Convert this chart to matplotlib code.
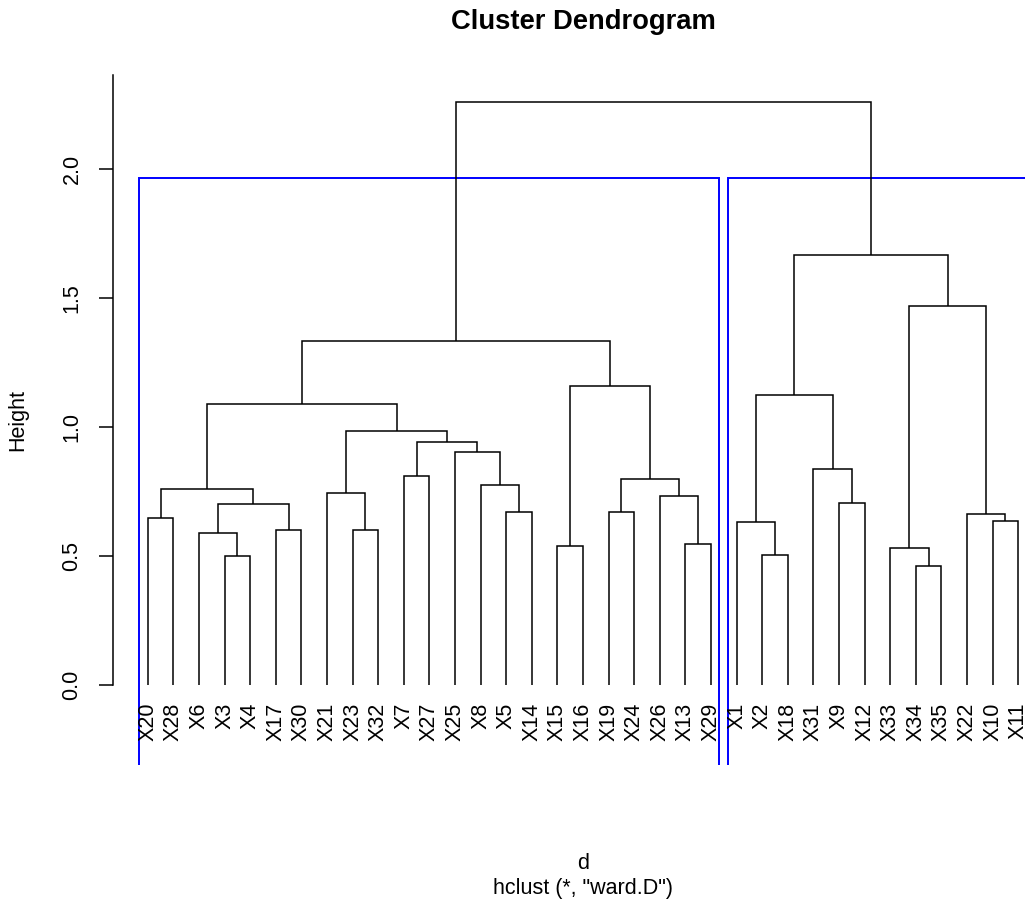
import matplotlib
matplotlib.use("Agg")
import matplotlib.pyplot as plt
from matplotlib.patches import Rectangle

plt.rcParams['font.family'] = ['Liberation Sans', 'DejaVu Sans']

# Leaf order (left to right)
leaf_labels = ["X20", "X28", "X6", "X3", "X4", "X17", "X30", "X21", "X23", "X32",
               "X7", "X27", "X25", "X8", "X5", "X14", "X15", "X16", "X19", "X24",
               "X26", "X13", "X29", "X1", "X2", "X18", "X31", "X9", "X12", "X33",
               "X34", "X35", "X22", "X10", "X11"]

# Merges: (left child, right child); strings = leaves, ints = earlier merge (1-based)
merge_left = ["X34", "X3", "X2", "X33", "X15", "X13", "X6", "X17", "X23", "X10",
              "X1", "X20", "X22", "X5", "X19", 7, "X9", "X26", "X21", 12,
              "X8", 15, "X7", "X31", "X25", 23, 19, 20, 11, 5,
              28, 4, 29, 31]
merge_right = ["X35", "X4", "X18", 1, "X16", "X29", 2, "X30", "X32", "X11",
               3, "X28", 10, "X14", "X24", 8, "X12", 6, 9, 16,
               14, 18, "X27", 17, 21, 25, 26, 27, 24, 22,
               30, 13, 32, 33]
merge_height = [0.462, 0.501, 0.503, 0.530, 0.540, 0.547, 0.590, 0.601, 0.601, 0.634,
                0.633, 0.648, 0.661, 0.672, 0.672, 0.701, 0.704, 0.733, 0.744, 0.760,
                0.777, 0.800, 0.810, 0.837, 0.902, 0.941, 0.985, 1.089, 1.123, 1.157,
                1.333, 1.470, 1.667, 2.260]

n_clusters = 2

W, H = 1025, 907
fig = plt.figure(figsize=(W / 100, H / 100), dpi=100)
ax = fig.add_axes([113 / W, 1 - 765 / H, 940 / W, 690 / H])

leaf_x = {lab: i + 1 for i, lab in enumerate(leaf_labels)}
node_x = {}
node_h = {}

def child_pos(c):
    if isinstance(c, str):
        return leaf_x[c], 0.0
    return node_x[c], node_h[c]

lc = 'black'
for k, (a, b, h) in enumerate(zip(merge_left, merge_right, merge_height), start=1):
    xa, ha = child_pos(a)
    xb, hb = child_pos(b)
    ax.plot([xa, xa, xb, xb], [ha, h, h, hb], color=lc, lw=1.1,
            solid_joinstyle='miter', solid_capstyle='butt')
    node_x[k] = (xa + xb) / 2
    node_h[k] = h

# leaf labels
for lab, x in leaf_x.items():
    ax.text(x, -0.068, lab, rotation=90, ha='center', va='top', fontsize=15.5)

ax.set_xlim(-0.36, 36.36)
ax.set_ylim(-0.310, 2.364)

# rect.hclust(k=2)
def leaves_under(c):
    if isinstance(c, str):
        return [c]
    return leaves_under(merge_left[c - 1]) + leaves_under(merge_right[c - 1])

top = len(merge_height)
cut = (merge_height[-1] + merge_height[-2]) / 2
for child in (merge_left[top - 1], merge_right[top - 1]):
    xs = [leaf_x[l] for l in leaves_under(child)]
    x0, x1 = min(xs) - 0.34, max(xs) + 0.33
    ax.add_patch(Rectangle((x0, -1.0), x1 - x0, cut + 1.0, fill=False,
                           edgecolor='#0000ff', lw=1.4, clip_on=True))

for s in ['top', 'right', 'bottom']:
    ax.spines[s].set_visible(False)
ax.spines['left'].set_bounds(0, 2.364)
ax.spines['left'].set_linewidth(1.1)
ax.set_xticks([])
ax.set_yticks([0.0, 0.5, 1.0, 1.5, 2.0])
ax.set_yticklabels(["0.0", "0.5", "1.0", "1.5", "2.0"], rotation=90, va='center')
ax.tick_params(axis='y', direction='out', length=10, width=1.1, pad=12, labelsize=15.5)

fig.text(18 / W, 1 - 420 / H, "Height", rotation=90, ha='center', va='center', fontsize=15.5)
fig.text(583 / W, 1 - 29 / H, "Cluster Dendrogram", ha='center', va='baseline',
         fontsize=19.7, fontweight='bold')
fig.text(583 / W, 1 - 869 / H, "d", ha='center', va='baseline', fontsize=15.5)
fig.text(583 / W, 1 - 894 / H, 'hclust (*, "ward.D")', ha='center', va='baseline', fontsize=15.5)

fig.savefig("out.png", dpi=100)
